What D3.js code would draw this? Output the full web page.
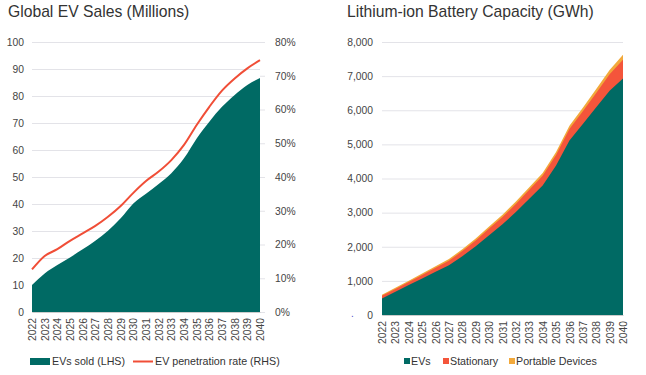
<!DOCTYPE html>
<html>
<head>
<meta charset="utf-8">
<script src="https://cdn.jsdelivr.net/npm/d3@7"></script>
<style>
  body { margin: 0; background: #fff; }
  svg { font-family: "Liberation Sans", Arial, sans-serif; }
  .grid line { stroke: #e3e3e8; }
  .tick text { fill: #444; font-size: 10.3px; }
</style>
</head>
<body>
<svg id="canvas"></svg>
<script>
// years shared by both charts
const years = d3.range(2022, 2041);

// left chart: EVs sold (millions) and penetration rate (%)
const evSales = [10, 14.3, 17.4, 20.2, 23.2, 26.4, 30.1, 34.7, 40.2, 43.8, 47.4, 51.4, 56.9, 64.3, 70.5, 76, 80.4, 84.1, 86.7];
const evShare = [12.6, 16.6, 18.6, 21.1, 23.3, 25.5, 28.2, 31.4, 35.3, 38.8, 41.6, 45, 49.5, 55.4, 60.8, 65.6, 69.2, 72.2, 74.6];

// right chart: battery capacity (GWh)
const batEVs = [487, 682, 876, 1071, 1266, 1460, 1723, 2016, 2337, 2658, 3018, 3408, 3797, 4382, 5112, 5599, 6086, 6572, 6930];
const batStationary = [75, 80, 90, 100, 115, 130, 150, 170, 195, 215, 235, 260, 285, 310, 340, 375, 420, 480, 550];
const batPortable = [35, 38, 40, 43, 46, 50, 54, 58, 64, 68, 72, 76, 80, 86, 92, 100, 115, 130, 150];

const width = 646, height = 375;
const svg = d3.select("#canvas").attr("width", width).attr("height", height);

const teal = "#006a64", red = "#f04e37", stationaryRed = "#f4553b", orange = "#f2a93b";

// ---------- left chart ----------
const L = { left: 32, right: 260, top: 42, bottom: 312 };
const xL = d3.scaleLinear().domain([2022, 2040]).range([L.left, L.right]);
const yL = d3.scaleLinear().domain([0, 100]).range([L.bottom, L.top]);
const yP = d3.scaleLinear().domain([0, 80]).range([L.bottom, L.top]);

svg.append("text")
  .attr("x", 8).attr("y", 17)
  .attr("font-size", 15.7).attr("fill", "#333")
  .text("Global EV Sales (Millions)");

svg.append("g")
  .attr("class", "grid")
  .attr("transform", `translate(${L.left},0)`)
  .call(d3.axisLeft(yL).tickValues(d3.range(0, 101, 10)).tickSize(-(L.right - L.left)).tickPadding(8))
  .call(g => g.select(".domain").remove());

svg.append("g")
  .attr("class", "grid")
  .attr("transform", `translate(${L.right},0)`)
  .call(d3.axisRight(yP).tickValues(d3.range(0, 81, 10)).tickSize(5).tickPadding(10).tickFormat(d => d + "%"))
  .call(g => g.select(".domain").remove());

svg.append("path")
  .datum(evSales)
  .attr("fill", teal)
  .attr("d", d3.area()
    .x((d, i) => xL(years[i]))
    .y0(yL(0))
    .y1(d => yL(d))
    .curve(d3.curveMonotoneX));

svg.append("path")
  .datum(evShare)
  .attr("fill", "none")
  .attr("stroke", red)
  .attr("stroke-width", 2)
  .attr("d", d3.line()
    .x((d, i) => xL(years[i]))
    .y(d => yP(d))
    .curve(d3.curveMonotoneX));

svg.append("g")
  .attr("transform", `translate(0,${L.bottom})`)
  .call(d3.axisBottom(xL).tickValues(years).tickFormat(d3.format("d")).tickSize(0))
  .call(g => g.select(".domain").attr("stroke", "#ccc"))
  .selectAll("text")
  .attr("transform", "rotate(-90)")
  .attr("text-anchor", "end")
  .attr("x", -6).attr("y", 0).attr("dy", "0.35em");

// legend left
svg.append("rect").attr("x", 30).attr("y", 358).attr("width", 20).attr("height", 7).attr("fill", teal);
svg.append("text").attr("x", 52).attr("y", 365).attr("font-size", 10.7).attr("fill", "#333").text("EVs sold (LHS)");
svg.append("line").attr("x1", 133).attr("x2", 153).attr("y1", 361.5).attr("y2", 361.5).attr("stroke", red).attr("stroke-width", 2);
svg.append("text").attr("x", 155).attr("y", 365).attr("font-size", 10.7).attr("fill", "#333").text("EV penetration rate (RHS)");

// ---------- right chart ----------
const R = { left: 382, right: 623, top: 42, bottom: 315 };
const xR = d3.scaleLinear().domain([2022, 2040]).range([R.left, R.right]);
const yR = d3.scaleLinear().domain([0, 8000]).range([R.bottom, R.top]);

svg.append("text")
  .attr("x", 347).attr("y", 17)
  .attr("font-size", 15.7).attr("fill", "#333")
  .text("Lithium-ion Battery Capacity (GWh)");

svg.append("g")
  .attr("class", "grid")
  .attr("transform", `translate(${R.left},0)`)
  .call(d3.axisLeft(yR).tickValues(d3.range(0, 8001, 1000)).tickSize(-(R.right - R.left)).tickPadding(9).tickFormat(d3.format(",")))
  .call(g => g.select(".domain").remove());

const keys = ["EVs", "Stationary", "Portable Devices"];
const rows = years.map((y, i) => ({ year: y, "EVs": batEVs[i], "Stationary": batStationary[i], "Portable Devices": batPortable[i] }));
const series = d3.stack().keys(keys)(rows);
const color = d3.scaleOrdinal().domain(keys).range([teal, stationaryRed, orange]);

svg.append("g").selectAll("path")
  .data(series.slice().reverse())
  .join("path")
  .attr("fill", d => color(d.key))
  .attr("d", d3.area()
    .x(d => xR(d.data.year))
    .y0(d => yR(0))
    .y1(d => yR(d[1])));

svg.append("g")
  .attr("transform", `translate(0,${R.bottom})`)
  .call(d3.axisBottom(xR).tickValues(years).tickFormat(d3.format("d")).tickSize(0))
  .call(g => g.select(".domain").attr("stroke", "#ccc"))
  .selectAll("text")
  .attr("transform", "rotate(-90)")
  .attr("text-anchor", "end")
  .attr("x", -6).attr("y", 0).attr("dy", "0.35em");

// stray dot next to the zero label
svg.append("text").attr("x", 351).attr("y", 317).attr("font-size", 10).attr("fill", "#5050c8").text(".");

// legend right
const legendX = [404, 443, 509];
keys.forEach((k, i) => {
  svg.append("rect").attr("x", legendX[i]).attr("y", 358).attr("width", 6).attr("height", 6).attr("fill", color(k));
  svg.append("text").attr("x", legendX[i] + 7).attr("y", 365).attr("font-size", 10.7).attr("fill", "#333").text(k);
});
</script>
</body>
</html>
